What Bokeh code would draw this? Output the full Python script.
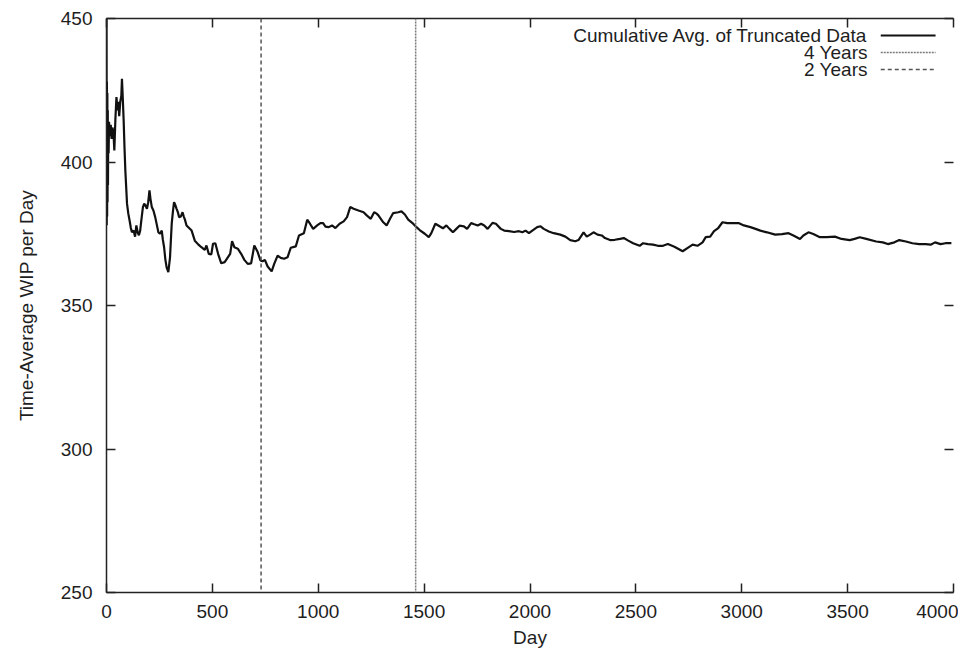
from bokeh.plotting import figure
from bokeh.models import (Range1d, LinearAxis, Span, Label, FixedTicker,
                          CustomLabelingPolicy)
from bokeh.embed import file_html
from bokeh.resources import INLINE

# ---- data ----
days = [0, 1, 2, 3, 4, 5, 6, 7, 8, 10, 12, 15, 20, 24, 28, 33, 37, 42, 47, 52,
        56, 60, 65, 70, 73, 77, 81, 85, 89, 97, 103, 109, 115, 120, 128, 135,
        141, 147, 153, 159, 165, 172, 178, 183, 191, 197, 203, 208, 214, 222,
        230, 238, 245, 253, 261, 266, 272, 278, 284, 292, 300, 308, 314, 319,
        325, 331, 337, 343, 351, 359, 365, 370, 378, 390, 402, 417, 433, 448,
        464, 472, 483, 495, 503, 514, 527, 542, 558, 573, 584, 593, 604, 620,
        636, 651, 667, 683, 698, 714, 727, 737, 748, 761, 780, 792, 808, 823,
        839, 855, 870, 894, 909, 932, 948, 961, 976, 995, 1010, 1023, 1034,
        1050, 1065, 1081, 1101, 1120, 1136, 1151, 1167, 1190, 1214, 1229, 1248,
        1264, 1276, 1284, 1307, 1323, 1339, 1354, 1378, 1393, 1409, 1425, 1448,
        1464, 1479, 1503, 1522, 1534, 1553, 1573, 1589, 1605, 1620, 1636, 1652,
        1667, 1688, 1703, 1722, 1737, 1753, 1769, 1784, 1800, 1823, 1839, 1862,
        1878, 1901, 1925, 1948, 1964, 1979, 1995, 2011, 2034, 2050, 2065, 2089,
        2112, 2143, 2167, 2190, 2214, 2229, 2253, 2268, 2284, 2300, 2319, 2339,
        2354, 2378, 2401, 2425, 2443, 2464, 2487, 2518, 2534, 2557, 2581, 2604,
        2628, 2651, 2682, 2721, 2745, 2768, 2791, 2815, 2830, 2851, 2869, 2889,
        2909, 2932, 2955, 2987, 3010, 3041, 3065, 3088, 3119, 3158, 3190, 3221,
        3244, 3275, 3291, 3315, 3338, 3369, 3401, 3440, 3471, 3510, 3533, 3557,
        3588, 3635, 3666, 3690, 3721, 3744, 3775, 3806, 3838, 3869, 3892, 3913,
        3939, 3962, 3990]
wip = [450, 378, 428, 381, 424, 386, 418, 392, 411, 403, 414, 409, 413, 408,
       412, 410, 404, 415, 422.6, 418, 421, 416, 421, 423, 429, 422, 414.5,
       405, 397, 385.4, 382, 379.6, 377, 375.5, 376.1, 374, 377.9, 375.5,
       374.5, 376.1, 380, 384.3, 385.5, 385, 383.7, 386, 390.1, 387, 384.3,
       383, 380.8, 378, 375.5, 375, 376.1, 373, 370.3, 366, 363.3, 361.6,
       366.8, 378.5, 383, 386, 385, 383.7, 382.5, 380.8, 381, 382.5, 381, 380,
       377.9, 377, 376.1, 372.6, 371.3, 370.3, 369.4, 370.9, 368, 367.8, 371.5,
       371.7, 368, 364.7, 365.1, 366.8, 368, 372.4, 370.3, 369.8, 368, 365.9,
       364.5, 364.7, 370.9, 368.6, 365.7, 365.4, 365.9, 363.6, 361.9, 364.5,
       367.4, 366.6, 366.3, 366.8, 370.1, 370.6, 374.4, 375.2, 379.9, 378.5,
       376.7, 377.9, 378.7, 378.7, 377.5, 377.3, 377.9, 377.0, 378.5, 379.3,
       380.8, 384.3, 383.7, 383.1, 382.5, 381.4, 380.2, 382.5, 382, 381.4, 379,
       377.9, 380.2, 382.2, 382.5, 382.8, 381.7, 379.9, 378.5, 377.3, 376.3,
       375, 373.8, 375.2, 378.5, 377.6, 376.9, 377.9, 376.7, 375.5, 376.7,
       377.8, 377.6, 376.7, 378.7, 378.3, 377.9, 378.5, 377.9, 376.7, 378.8,
       378.5, 376.7, 376.1, 375.9, 375.6, 375.9, 375.5, 376.1, 375.2, 376.1,
       377.3, 377.6, 376.7, 375.8, 375.2, 374.7, 374, 372.8, 372.4, 372.8,
       375.5, 374, 374.7, 375.5, 374.7, 374.4, 373.5, 372.8, 372.9, 373.2,
       373.5, 372.6, 371.7, 370.8, 371.7, 371.4, 371.2, 370.8, 370.8, 371.4,
       370.5, 368.9, 370.1, 371.2, 370.8, 372, 373.8, 374, 375.9, 377, 379,
       378.7, 378.7, 378.7, 377.9, 377.3, 376.7, 376.1, 375.5, 374.7, 374.9,
       375.2, 374.4, 373.2, 374.4, 375.5, 374.9, 373.8, 373.8, 374, 373.2,
       372.8, 373.2, 373.8, 373.2, 372.3, 372, 371.4, 372, 372.8, 372.3, 371.7,
       371.4, 371.4, 371.2, 372, 371.4, 371.7, 371.7]

x_ticks = [0, 500, 1000, 1500, 2000, 2500, 3000, 3500, 4000]
y_ticks = [250, 300, 350, 400, 450]
marker_days = [730, 1460]
marker_names = ["2 Years", "4 Years"]
series_name = "Cumulative Avg. of Truncated Data"

# ---- styles / layout ----
FONT = "Liberation Sans"
FS = "19px"
TXT = "#1e1e1e"
AX = "#222222"
CURVE_COLOR = "#111111"
MARK_COLOR = {"2 Years": "#555555", "4 Years": "#7a7a7a"}
MARK_DASH = {"2 Years": "4 3", "4 Years": "2 1"}

W, H = 958, 650
FL, FT, FB = 106, 18, 592        # intended frame left / top / bottom (px)
FR = 956                          # frame right (px), right axis takes ~2px
X0, X1 = 0, 4000
Y0, Y1 = 250, 450


def px_x(px):
    return X0 + (px - FL) / (FR - FL) * (X1 - X0)


def px_y(py):
    return Y1 - (py - FT) / (FB - FT) * (Y1 - Y0)


p = figure(width=W, height=H, output_backend="svg", toolbar_location=None,
           x_range=Range1d(X0, X1), y_range=Range1d(Y0, Y1),
           min_border_left=FL, min_border_right=0, min_border_top=FT,
           min_border_bottom=H - FB,
           x_axis_label="Day", y_axis_label="Time-Average WIP per Day")
p.grid.visible = False
p.outline_line_color = None
p.background_fill_color = "white"
p.border_fill_color = "white"


def style_axis(ax, show_labels=True):
    ax.major_tick_in = 9
    ax.major_tick_out = 0
    ax.minor_tick_in = 0
    ax.minor_tick_out = 0
    ax.axis_line_color = AX
    ax.axis_line_width = 1.5
    ax.major_tick_line_color = AX
    ax.major_tick_line_width = 1.5
    ax.major_label_text_font = FONT
    ax.major_label_text_color = TXT
    ax.axis_label_text_font = FONT
    ax.axis_label_text_font_size = FS
    ax.axis_label_text_font_style = "normal"
    ax.axis_label_text_color = TXT
    if show_labels:
        ax.major_label_text_font_size = FS
    else:
        ax.major_label_text_font_size = "1px"
        ax.major_label_standoff = 0
        ax.major_label_policy = CustomLabelingPolicy(code="return []")


xax = p.xaxis[0]
xax.ticker = FixedTicker(ticks=x_ticks, minor_ticks=[])
style_axis(xax)
xax.major_label_standoff = 12
xax.axis_label_standoff = 6

yax = p.yaxis[0]
yax.ticker = FixedTicker(ticks=y_ticks, minor_ticks=[])
style_axis(yax)
yax.major_label_standoff = 14
yax.axis_label_standoff = 21

top = LinearAxis(ticker=FixedTicker(ticks=x_ticks, minor_ticks=[]))
style_axis(top, show_labels=False)
p.add_layout(top, "above")

right = LinearAxis(ticker=FixedTicker(ticks=y_ticks, minor_ticks=[]))
style_axis(right, show_labels=False)
right.axis_line_alpha = 0
p.add_layout(right, "right")

# vertical marker lines
for d, name in zip(marker_days, marker_names):
    p.add_layout(Span(location=d, dimension="height",
                      line_color=MARK_COLOR[name], line_width=1.5,
                      line_dash=MARK_DASH[name]))

# main curve
p.line(days, wip, line_color=CURVE_COLOR, line_width=2.2)

# gnuplot-style key (text right-aligned, sample to the right)
key_rows = [(series_name, CURVE_COLOR, "solid", 2.0),
            ("4 Years", MARK_COLOR["4 Years"], MARK_DASH["4 Years"], 1.5),
            ("2 Years", MARK_COLOR["2 Years"], MARK_DASH["2 Years"], 1.5)]
text_right = px_x(870)
samp0, samp1 = px_x(883), px_x(938)
for i, (name, col, dash, lw) in enumerate(key_rows):
    yy = px_y(35 + i * 17)
    p.add_layout(Label(x=text_right, y=yy, text=name, text_align="right",
                       text_baseline="middle", text_font=FONT,
                       text_font_size=FS, text_color=TXT))
    p.segment(x0=[samp0], y0=[yy], x1=[samp1], y1=[yy], line_color=col,
              line_width=lw, line_dash=dash)

open("out.html", "w").write(file_html(p, INLINE))
